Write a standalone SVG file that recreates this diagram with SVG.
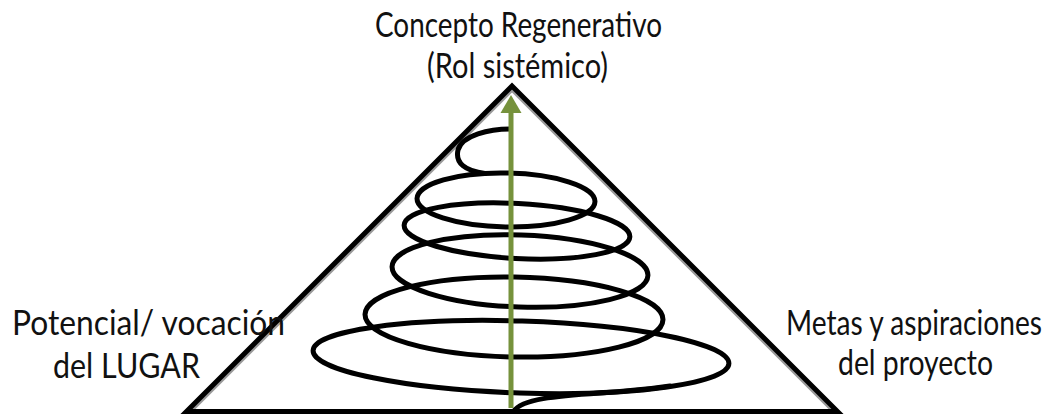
<svg xmlns="http://www.w3.org/2000/svg" width="1053" height="414" viewBox="0 0 1053 414">
  <style>
    .lbl { font-family: Lato, "Liberation Sans", Arial, sans-serif; font-size: 35px; fill: #111; }
    .edge { fill: none; stroke: #000; stroke-width: 5; stroke-linejoin: miter; stroke-miterlimit: 10; }
    .shadow { fill: none; stroke: #9a9a9a; stroke-width: 5; stroke-linejoin: miter; stroke-miterlimit: 10; }
    .spiral { fill: none; stroke: #000; stroke-width: 5; stroke-linecap: round; }
    .axis { stroke: #76923c; stroke-width: 5; }
  </style>
  <rect width="1053" height="414" fill="#fff"/>

  <g id="triangle">
    <polyline class="shadow" points="186.5,414.5 512,89 837.5,414.5"/>
    <polygon class="edge" points="512,86 186.5,411.5 837.5,411.5"/>
  </g>

  <g id="spiral">
    <path class="spiral" d="M510,129 C490,129 462,135 458,150 C455,163 465,171 485,173.5"/>
    <ellipse class="spiral" cx="506" cy="200" rx="89" ry="27" transform="rotate(1 506 200)"/>
    <ellipse class="spiral" cx="517" cy="231" rx="113" ry="27.5" transform="rotate(3 517 231)"/>
    <ellipse class="spiral" cx="520" cy="271" rx="128" ry="36" transform="rotate(2 520 271)"/>
    <ellipse class="spiral" cx="514" cy="317" rx="149" ry="40" transform="rotate(1 514 317)"/>
    <ellipse class="spiral" cx="521" cy="357" rx="208" ry="36" transform="rotate(1.8 521 357)"/>
    <path class="spiral" d="M514,411 C522,399 555,396 600,393 C630,391 650,389 670,386"/>
  </g>

  <g id="connectors">
    <line class="axis" x1="511" y1="408" x2="511" y2="110"/>
    <polygon points="511,95 500.5,113 521.5,113" fill="#76923c"/>
  </g>

  <g id="label-top">
    <text class="lbl" x="375" y="37" textLength="287" lengthAdjust="spacingAndGlyphs">Concepto Regenerativo</text>
    <text class="lbl" x="427" y="77.5" textLength="181" lengthAdjust="spacingAndGlyphs">(Rol sistémico)</text>
  </g>
  <g id="label-left">
    <text class="lbl" x="12" y="335" textLength="273" lengthAdjust="spacingAndGlyphs">Potencial/ vocación</text>
    <text class="lbl" x="53" y="378" textLength="147" lengthAdjust="spacingAndGlyphs">del LUGAR</text>
  </g>
  <g id="label-right">
    <text class="lbl" x="786" y="335" textLength="256" lengthAdjust="spacingAndGlyphs">Metas y aspiraciones</text>
    <text class="lbl" x="838" y="375" textLength="155" lengthAdjust="spacingAndGlyphs">del proyecto</text>
  </g>
</svg>
